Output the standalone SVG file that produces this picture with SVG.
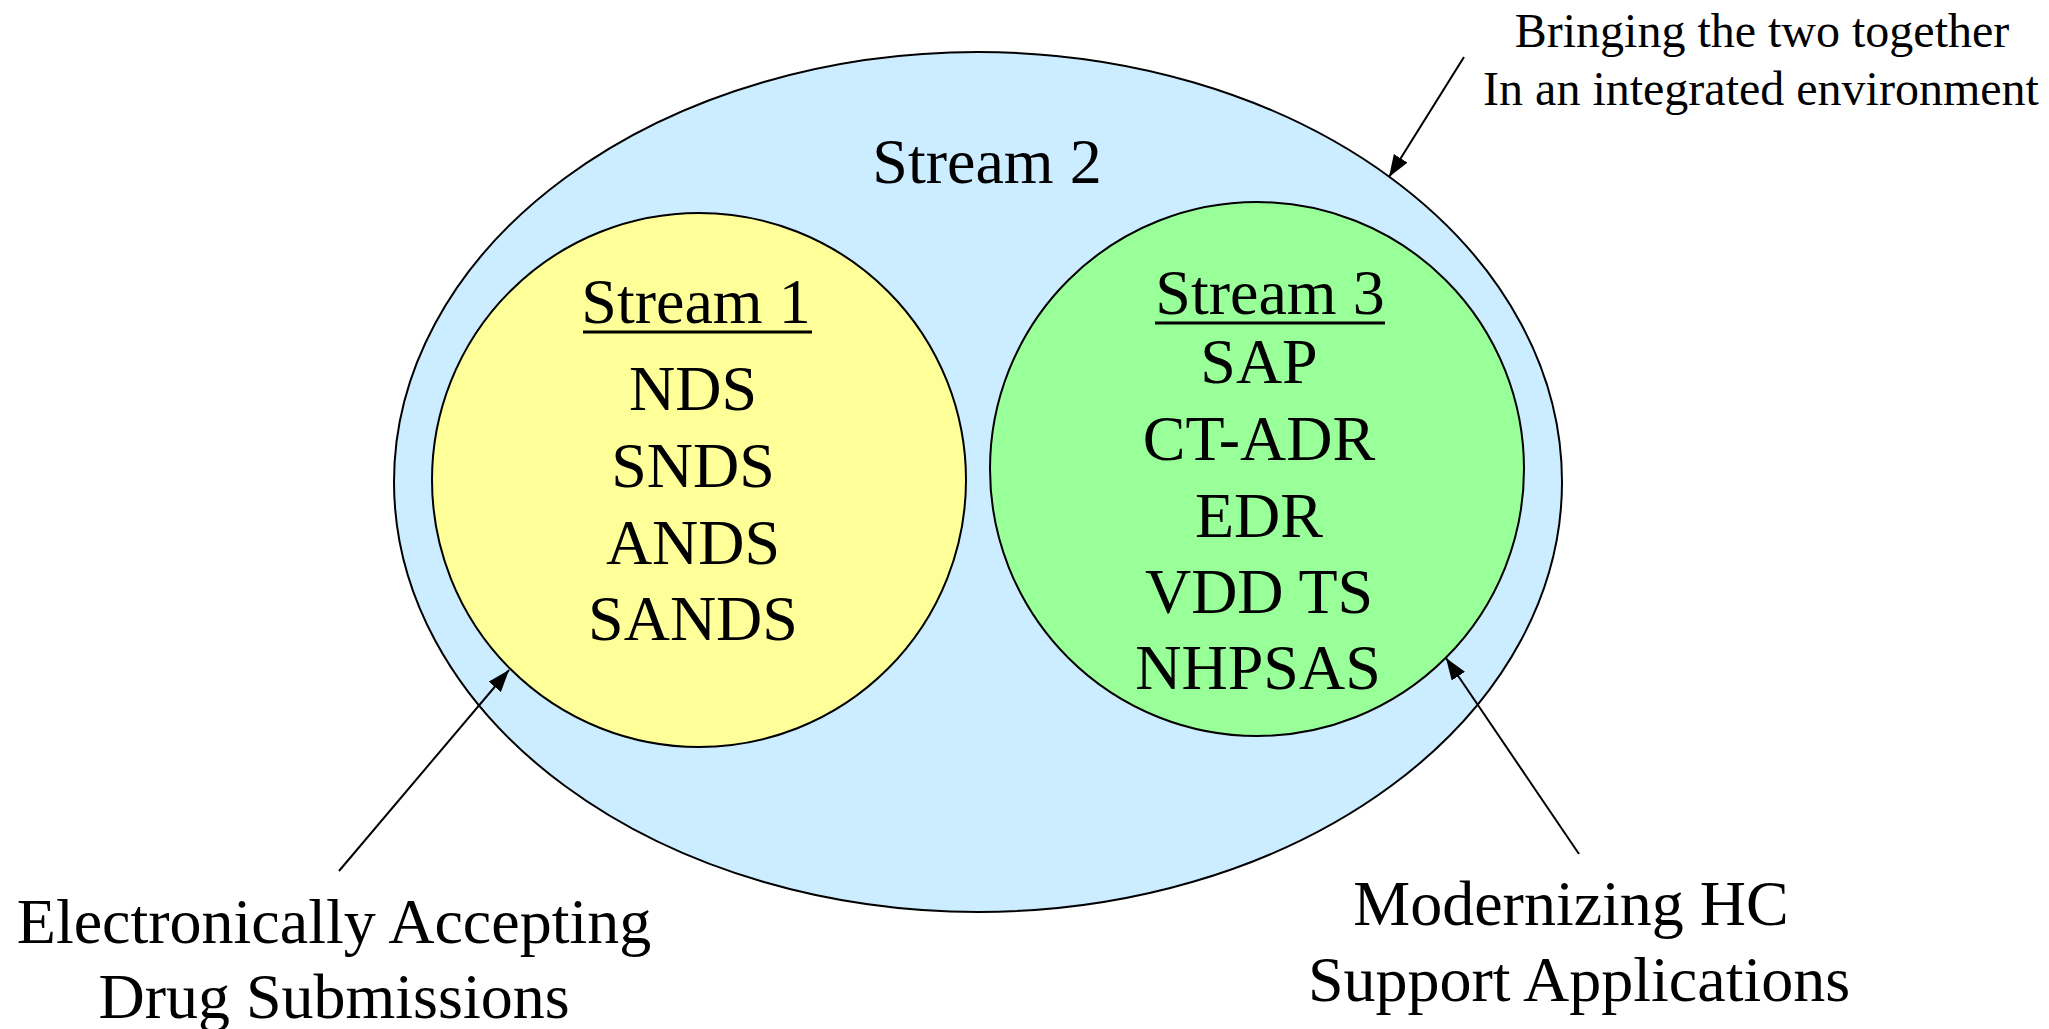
<svg xmlns="http://www.w3.org/2000/svg" width="2049" height="1029" viewBox="0 0 2049 1029">
<style>
text{font-family:"Liberation Serif","Times New Roman",serif;fill:#000;text-anchor:middle}
.big{font-size:64px}
.lbl{font-size:64px}
.sm{font-size:48px}
.shape{stroke:#000;stroke-width:2}
.con{stroke:#000;stroke-width:2;fill:none}
.ul{stroke:#000;stroke-width:3}
</style>
<defs>
<marker id="ah" markerUnits="userSpaceOnUse" markerWidth="24" markerHeight="18" refX="22" refY="8" orient="auto">
<path d="M0,0 L22,8 L0,16 z" fill="#000"/>
</marker>
</defs>
<rect width="2049" height="1029" fill="#fff"/>
<g id="stream2">
<ellipse class="shape" cx="978" cy="482" rx="584" ry="430" fill="#CCECFF"/>
<text class="big" x="987" y="183">Stream 2</text>
</g>
<g id="stream1">
<circle class="shape" cx="699" cy="480" r="267" fill="#FFFF99"/>
<text class="big" x="696" y="323">Stream 1</text>
<line class="ul" x1="583" y1="332" x2="812" y2="332"/>
<text class="big" x="693" y="410">NDS</text>
<text class="big" x="693" y="487">SNDS</text>
<text class="big" x="693" y="564">ANDS</text>
<text class="big" x="693" y="640">SANDS</text>
</g>
<g id="stream3">
<circle class="shape" cx="1257" cy="469" r="267" fill="#99FF99"/>
<text class="big" x="1270" y="314">Stream 3</text>
<line class="ul" x1="1155" y1="323" x2="1385" y2="323"/>
<text class="big" x="1259" y="383">SAP</text>
<text class="big" x="1259" y="460">CT-ADR</text>
<text class="big" x="1259" y="537">EDR</text>
<text class="big" x="1259" y="613">VDD TS</text>
<text class="big" x="1258" y="689">NHPSAS</text>
</g>
<g id="label-top">
<text class="sm" x="1762" y="47">Bringing the two together</text>
<text class="sm" x="1761" y="105">In an integrated environment</text>
</g>
<g id="label-left">
<text class="lbl" x="334" y="943">Electronically Accepting</text>
<text class="lbl" x="334" y="1018">Drug Submissions</text>
</g>
<g id="label-right">
<text class="lbl" x="1571" y="925">Modernizing HC</text>
<text class="lbl" x="1579" y="1001">Support Applications</text>
</g>
<g id="connectors">
<line class="con" x1="1464" y1="57" x2="1389" y2="177" marker-end="url(#ah)"/>
<line class="con" x1="339" y1="871" x2="509" y2="670" marker-end="url(#ah)"/>
<line class="con" x1="1579" y1="854" x2="1446" y2="658" marker-end="url(#ah)"/>
</g>
</svg>
